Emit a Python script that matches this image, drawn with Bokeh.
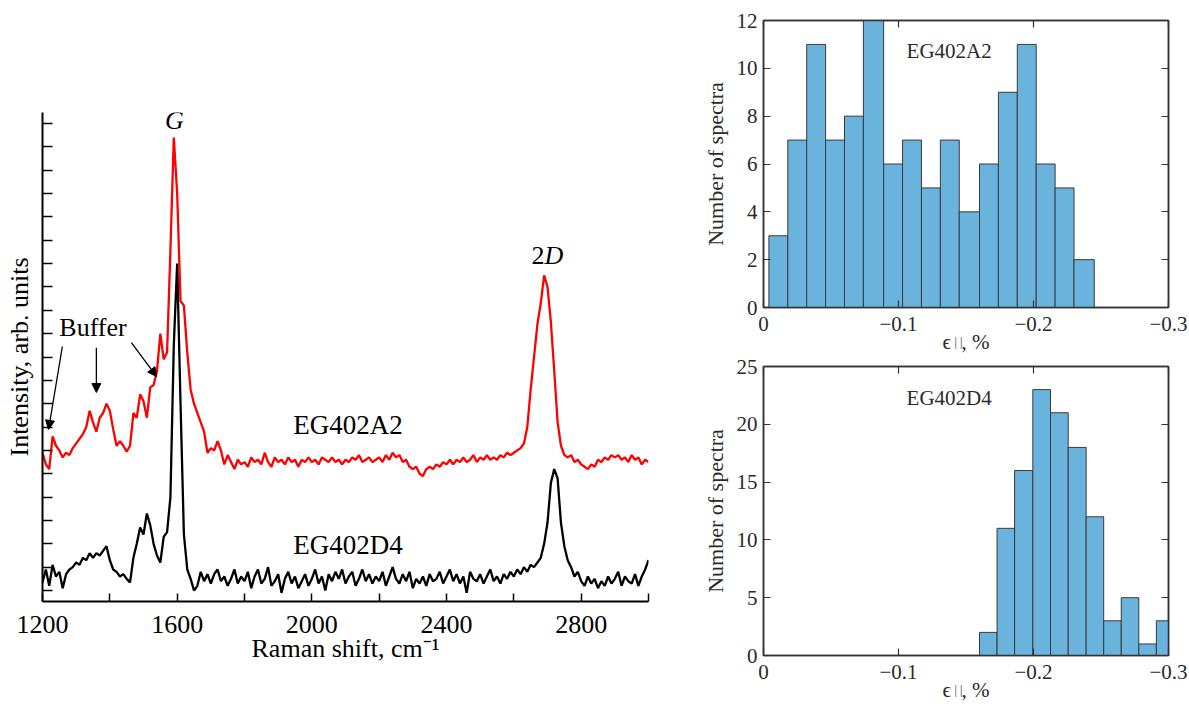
from bokeh.plotting import figure
from bokeh.layouts import row, column
from bokeh.models import Range1d, FixedTicker, LinearAxis, Label, Arrow, NormalHead, ColumnDataSource
from bokeh.embed import file_html
from bokeh.resources import INLINE

FONT = "Liberation Serif"
TXT = "#000000"
HTXT = "#2a2a2a"

# ---------------- Raman spectra ----------------
raman_shift = list(range(1200, 3001, 10))

intensity_A2 = [
    5.9, 5.4, 5.2, 6.6, 6.2, 6.0, 5.7, 5.9, 5.8, 6.1,      # 1200
    6.3, 6.5, 6.7, 7.0, 7.7, 7.2, 6.8, 7.4, 7.6, 8.0,      # 1300
    7.7, 6.9, 6.2, 6.4, 6.2, 5.95, 6.2, 7.6, 7.4, 8.4,     # 1400
    8.1, 7.4, 8.7, 8.8, 9.4, 11.0, 9.9, 10.2, 14.6, 19.4,  # 1500
    17.0, 12.4, 12.2, 10.2, 8.6, 8.0, 7.6, 7.2, 6.8, 5.9,  # 1600
    6.1, 6.0, 6.4, 6.0, 5.4, 5.8, 5.5, 5.2, 5.6, 5.4,      # 1700
    5.5, 5.3, 5.7, 5.5, 5.6, 5.4, 5.9, 5.5, 5.3, 5.7,      # 1800
    5.5, 5.6, 5.4, 5.7, 5.5, 5.6, 5.3, 5.6, 5.5, 5.7,      # 1900
    5.5, 5.6, 5.4, 5.7, 5.6, 5.5, 5.7, 5.5, 5.6, 5.4,      # 2000
    5.6, 5.5, 5.7, 5.6, 5.8, 5.5, 5.6, 5.7, 5.5, 5.6,      # 2100
    5.7, 5.5, 5.8, 5.6, 5.9, 5.7, 5.8, 5.5, 5.6, 5.3,      # 2200
    5.2, 5.3, 5.0, 4.9, 5.2, 5.3, 5.2, 5.4, 5.3, 5.5,      # 2300
    5.4, 5.6, 5.4, 5.6, 5.5, 5.7, 5.5, 5.6, 5.8, 5.5,      # 2400
    5.7, 5.6, 5.8, 5.6, 5.7, 5.6, 5.8, 5.7, 5.9, 5.8,      # 2500
    5.9, 6.0, 6.1, 6.3, 7.0, 8.6, 10.0, 11.4, 12.3, 13.5,  # 2600
    13.0, 11.5, 9.4, 7.2, 6.2, 5.8, 5.7, 5.8, 5.5, 5.6,    # 2700
    5.4, 5.3, 5.2, 5.4, 5.3, 5.6, 5.5, 5.7, 5.6, 5.8,      # 2800
    5.7, 5.8, 5.6, 5.7, 5.5, 5.8, 5.6, 5.7, 5.4, 5.6,      # 2900
    5.5,                                                   # 3000
]

intensity_D4 = [
    0.35, 0.9, 0.2, 1.1, 0.6, 0.8, 0.1, 0.7, 0.9, 1.0,     # 1200
    1.2, 1.1, 1.4, 1.3, 1.6, 1.4, 1.6, 1.5, 1.7, 1.9,      # 1300
    1.3, 0.9, 0.8, 0.6, 0.7, 0.5, 0.35, 1.4, 2.0, 2.7,     # 1400
    2.4, 3.3, 2.8, 2.0, 1.5, 1.2, 2.3, 2.5, 4.0, 10.5,     # 1500
    14.0, 8.0, 2.4, 0.9, 0.5, 0.0, 0.2, 0.8, 0.4, 0.7,     # 1600
    0.3, 0.7, 0.9, 0.4, 0.6, 0.2, 0.5, 0.9, 0.3, 0.6,      # 1700
    0.4, 0.8, 0.1, 0.6, 0.9, 0.3, 0.5, 1.0, 0.2, 0.4,      # 1800
    0.7, -0.1, 0.5, 0.8, 0.3, 0.6, 0.1, 0.4, 0.7, 0.2,     # 1900
    0.5, 0.9, 0.3, 0.6, 0.0, 0.7, 0.4, 0.8, 0.5, 0.9,      # 2000
    0.3, 0.6, 0.8, 0.2, 0.5, 0.9, 0.4, 0.7, 0.3, 0.6,      # 2100
    0.4, 0.8, 0.2, 0.6, 1.0, 0.5, 0.3, 0.7, 0.4, 0.8,      # 2200
    0.1, 0.5, 0.3, 0.6, 0.2, 0.7, 0.4, 0.5, 0.8, 0.3,      # 2300
    0.6, 0.9, 0.4, 0.7, 0.3, 0.6, -0.1, 0.8, 0.5, 0.4,     # 2400
    0.7, 0.3, 0.6, 0.9, 0.4, 0.6, 0.3, 0.7, 0.5, 0.8,      # 2500
    0.6, 0.9, 0.7, 1.0, 0.8, 1.1, 1.0, 1.2, 1.4, 2.0,      # 2600
    2.9, 4.6, 5.2, 4.8, 2.9, 1.9, 1.3, 1.0, 0.6, 0.8,      # 2700
    0.4, 0.2, 0.6, 0.3, 0.5, 0.1, 0.4, 0.2, 0.6, 0.3,      # 2800
    0.5, 0.8, 0.2, 0.6, 0.4, 0.3, 0.7, 0.2, 0.6, 0.9,      # 2900
    1.3,                                                   # 3000
]

raman_ticks = [1200, 1400, 1600, 1800, 2000, 2200, 2400, 2600, 2800, 3000]
raman_tick_labels = ["1200", "", "1600", "", "2000", "", "2400", "", "2800", ""]
intensity_ticks = list(range(0, 21))

# ---------------- Strain histograms ----------------
strain_edges_A2 = [-0.004, -0.018, -0.032, -0.046, -0.060, -0.074, -0.089, -0.103, -0.117,
                   -0.131, -0.145, -0.160, -0.174, -0.188, -0.202, -0.216, -0.230, -0.245]
counts_A2 = [3, 7, 11, 7, 8, 12, 6, 7, 5, 7, 4, 6, 9, 11, 6, 5, 2]

strain_edges_D4 = [-0.160, -0.173, -0.186, -0.1995, -0.2126, -0.2257, -0.239, -0.252,
                   -0.265, -0.278, -0.291, -0.304]
counts_D4 = [2, 11, 16, 23, 21, 18, 12, 3, 5, 1, 3]

strain_ticks = [0, -0.1, -0.2, -0.3]
strain_tick_labels = ["0", "\u22120.1", "\u22120.2", "\u22120.3"]
counts_ticks_A2 = [0, 2, 4, 6, 8, 10, 12]
counts_ticks_D4 = [0, 5, 10, 15, 20, 25]


def blank(ticks):
    return {t: "" for t in ticks}


# ---------------- Left: spectra ----------------
p = figure(frame_width=606, frame_height=489, min_border_left=42, min_border_right=51,
           min_border_top=112, min_border_bottom=100,
           x_range=Range1d(1200, 3000), y_range=Range1d(-0.47, 20.47),
           output_backend="svg", toolbar_location=None)
p.outline_line_color = None
p.grid.visible = False
p.background_fill_color = "white"
p.border_fill_color = "white"

p.line(raman_shift, intensity_A2, line_color="#ff0000", line_width=2.3)
p.line(raman_shift, intensity_D4, line_color="#000000", line_width=2.3)

xa = p.xaxis[0]
xa.ticker = FixedTicker(ticks=raman_ticks)
xa.major_label_overrides = {t: l for t, l in zip(raman_ticks, raman_tick_labels)}
xa.axis_label = "Raman shift, cm\u207b\u00b9"
for ax in (p.xaxis[0], p.yaxis[0]):
    ax.axis_line_width = 2
    ax.axis_line_color = "black"
    ax.major_tick_line_color = "black"
    ax.major_tick_line_width = 1.5
    ax.major_tick_out = 0
    ax.minor_tick_line_color = None
    ax.axis_label_text_font = FONT
    ax.axis_label_text_font_style = "normal"
    ax.axis_label_text_color = TXT
    ax.major_label_text_font = FONT
    ax.major_label_text_color = TXT
xa.major_tick_in = 8
xa.major_label_text_font_size = "26px"
xa.major_label_standoff = 14
xa.axis_label_text_font_size = "26px"
xa.axis_label_standoff = -2

ya = p.yaxis[0]
ya.ticker = FixedTicker(ticks=intensity_ticks)
ya.major_tick_in = 10
ya.major_label_overrides = blank(intensity_ticks)
ya.major_label_text_font_size = "1px"
ya.major_label_standoff = 0
ya.axis_label = "Intensity, arb. units"
ya.axis_label_text_font_size = "26px"
ya.axis_label_standoff = 9


def lab(fig, text, x, y, size, align="left", style="normal", color=TXT):
    fig.add_layout(Label(x=x, y=y, text=text, text_font=FONT, text_font_size=size,
                         text_font_style=style, text_align=align, text_baseline="alphabetic",
                         text_color=color))


lab(p, "G", 1592, 20.13, "26px", align="center", style="italic")
lab(p, "2", 2691, 14.35, "26px", align="right")
lab(p, "D", 2691, 14.35, "26px", align="left", style="italic")
lab(p, "Buffer", 1250, 11.27, "26px")
lab(p, "EG402A2", 1945, 7.07, "27px")
lab(p, "EG402D4", 1945, 1.97, "27px")

for (x0, y0, x1, y1) in [(1259, 10.45, 1218, 6.9), (1360, 10.4, 1360, 8.48), (1464, 10.62, 1539, 9.16)]:
    p.add_layout(Arrow(end=NormalHead(size=9, fill_color="black", line_color="black", line_width=1),
                       x_start=x0, y_start=y0, x_end=x1, y_end=y1,
                       line_color="black", line_width=1.3))


# ---------------- Right: histograms ----------------
def label_axis(text, size, standoff):
    ax = LinearAxis(ticker=FixedTicker(ticks=[]), axis_label=text)
    ax.axis_line_color = None
    ax.major_tick_line_color = None
    ax.minor_tick_line_color = None
    ax.major_tick_in = 0
    ax.major_tick_out = 0
    ax.major_label_standoff = 0
    ax.major_label_text_font_size = "1px"
    ax.axis_label_text_font = FONT
    ax.axis_label_text_font_style = "normal"
    ax.axis_label_text_font_size = size
    ax.axis_label_text_color = HTXT
    ax.axis_label_standoff = standoff
    return ax


def hist(edges, counts, ymax, yticks, name, name_y, top_b, bot_b, fh):
    h = figure(frame_width=405, frame_height=fh, min_border_left=64, min_border_right=19,
               min_border_top=top_b, min_border_bottom=bot_b,
               x_range=Range1d(0, -0.3), y_range=Range1d(0, ymax),
               output_backend="svg", toolbar_location=None)
    h.grid.visible = False
    h.outline_line_color = "#333333"
    h.outline_line_width = 1.5
    src = ColumnDataSource(dict(left=edges[:-1], right=edges[1:], top=counts))
    h.quad(left="left", right="right", bottom=0, top="top", source=src,
           fill_color="#69b3dd", line_color="#3a3a3a", line_width=1)
    h.add_layout(LinearAxis(), "above")
    h.add_layout(LinearAxis(), "right")
    for ax in h.xaxis:
        ax.ticker = FixedTicker(ticks=strain_ticks)
    for ax in h.yaxis:
        ax.ticker = FixedTicker(ticks=yticks)
    for ax in list(h.xaxis) + list(h.yaxis):
        ax.axis_line_color = "#333333"
        ax.axis_line_width = 1.5
        ax.major_tick_line_color = "#333333"
        ax.major_tick_line_width = 1.2
        ax.major_tick_in = 7
        ax.major_tick_out = 0
        ax.minor_tick_line_color = None
        ax.major_label_text_font = FONT
        ax.major_label_text_font_size = "21px"
        ax.major_label_text_color = HTXT
        ax.axis_label_text_font = FONT
        ax.axis_label_text_font_style = "normal"
        ax.axis_label_text_color = HTXT
    h.below[0].major_label_overrides = {t: l for t, l in zip(strain_ticks, strain_tick_labels)}
    h.below[0].major_label_standoff = 9
    h.left[0].major_label_standoff = 6
    for ax, ticks in ((h.above[0], strain_ticks), (h.right[0], yticks)):
        ax.major_label_overrides = blank(ticks)
        ax.major_label_text_font_size = "1px"
        ax.major_label_standoff = 0
    h.left[0].axis_label = "Number of spectra"
    h.left[0].axis_label_text_font_size = "22px"
    h.left[0].axis_label_standoff = 6
    # x label: epsilon with subscript "||", percent
    h.add_layout(label_axis("|\u00a0|" + "\u00a0" * 5, "12px", 1), "below")
    h.add_layout(label_axis("\u03f5\u00a0\u00a0, %", "21px", -22), "below")
    lab(h, name, -0.106, name_y, "21px", color=HTXT)
    return h


h1 = hist(strain_edges_A2, counts_A2, 12, counts_ticks_A2, "EG402A2", 10.71, 20, 45, 287)
h2 = hist(strain_edges_D4, counts_D4, 25, counts_ticks_D4, "EG402D4", 22.3, 10, 45, 289)

layout = row(p, column(h1, h2, spacing=0), spacing=0)
open("out.html", "w").write(file_html(layout, INLINE))
